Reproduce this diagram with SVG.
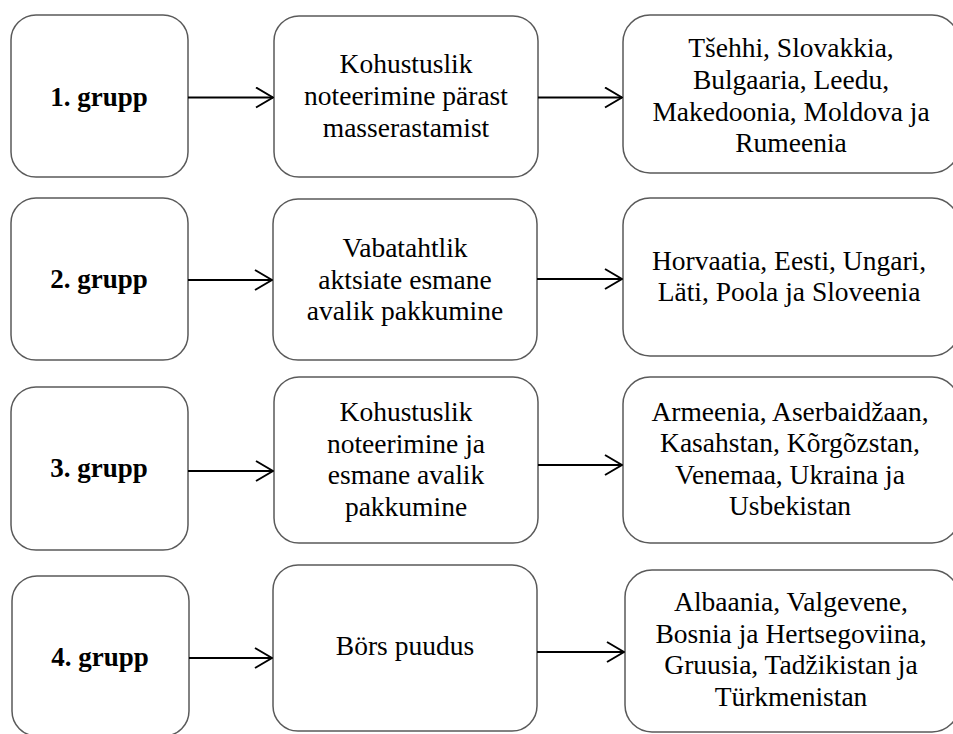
<svg xmlns="http://www.w3.org/2000/svg" width="953" height="734" viewBox="0 0 953 734">
  <style>
    .box { fill: #ffffff; stroke: #5a5a5a; stroke-width: 1.5; }
    .lbl { font-family: 'Liberation Serif', 'Times New Roman', serif; font-size: 27.5px; fill: #000; text-anchor: middle; }
    .grp { font-family: 'Liberation Serif', 'Times New Roman', serif; font-size: 27px; font-weight: bold; fill: #000; text-anchor: middle; }
    .conn { stroke: #000; stroke-width: 2; fill: none; marker-end: url(#open); }
  </style>
  <defs>
    <!-- open chevron arrowhead -->
    <marker id="open" viewBox="0 0 20 22" refX="19" refY="11" markerWidth="20" markerHeight="22" markerUnits="userSpaceOnUse" orient="auto">
      <path d="M2,1 L19,11 L2,21" fill="none" stroke="#000" stroke-width="2"/>
    </marker>
  </defs>
  <rect width="953" height="734" fill="#ffffff"/>

  <!-- group column -->
  <g id="grupp1">
    <rect class="box" x="11" y="15" width="177" height="162" rx="25"/>
    <text class="grp" x="99" y="106">1. grupp</text>
  </g>
  <g id="grupp2">
    <rect class="box" x="11" y="198" width="177" height="162" rx="25"/>
    <text class="grp" x="99" y="288">2. grupp</text>
  </g>
  <g id="grupp3">
    <rect class="box" x="11" y="387" width="177" height="163" rx="25"/>
    <text class="grp" x="99" y="477">3. grupp</text>
  </g>
  <g id="grupp4">
    <rect class="box" x="12" y="576" width="177" height="160" rx="25"/>
    <text class="grp" x="100" y="666">4. grupp</text>
  </g>

  <!-- listing mode column -->
  <g id="viis1">
    <rect class="box" x="274" y="16" width="264" height="161" rx="25"/>
    <text class="lbl" x="406" y="73">Kohustuslik</text>
    <text class="lbl" x="406" y="105">noteerimine pärast</text>
    <text class="lbl" x="406" y="137">masserastamist</text>
  </g>
  <g id="viis2">
    <rect class="box" x="273" y="199" width="264" height="161" rx="25"/>
    <text class="lbl" x="405" y="257">Vabatahtlik</text>
    <text class="lbl" x="405" y="288.5">aktsiate esmane</text>
    <text class="lbl" x="405" y="320">avalik pakkumine</text>
  </g>
  <g id="viis3">
    <rect class="box" x="274" y="377" width="264" height="166" rx="25"/>
    <text class="lbl" x="406" y="421">Kohustuslik</text>
    <text class="lbl" x="406" y="452.5">noteerimine ja</text>
    <text class="lbl" x="406" y="484">esmane avalik</text>
    <text class="lbl" x="406" y="515.5">pakkumine</text>
  </g>
  <g id="viis4">
    <rect class="box" x="273" y="565" width="264" height="166" rx="25"/>
    <text class="lbl" x="405" y="655">Börs puudus</text>
  </g>

  <!-- country column -->
  <g id="riigid1">
    <rect class="box" x="623" y="15" width="336" height="158" rx="27"/>
    <text class="lbl" x="791" y="57">Tšehhi, Slovakkia,</text>
    <text class="lbl" x="791" y="89">Bulgaaria, Leedu,</text>
    <text class="lbl" x="791" y="120.5">Makedoonia, Moldova ja</text>
    <text class="lbl" x="791" y="152">Rumeenia</text>
  </g>
  <g id="riigid2">
    <rect class="box" x="623" y="198" width="336" height="158" rx="27"/>
    <text class="lbl" x="789" y="270">Horvaatia, Eesti, Ungari,</text>
    <text class="lbl" x="789" y="301">Läti, Poola ja Sloveenia</text>
  </g>
  <g id="riigid3">
    <rect class="box" x="623" y="377" width="336" height="166" rx="27"/>
    <text class="lbl" x="790" y="420.5">Armeenia, Aserbaidžaan,</text>
    <text class="lbl" x="790" y="452">Kasahstan, Kõrgõzstan,</text>
    <text class="lbl" x="790" y="483.5">Venemaa, Ukraina ja</text>
    <text class="lbl" x="790" y="515">Usbekistan</text>
  </g>
  <g id="riigid4">
    <rect class="box" x="625" y="570" width="334" height="162" rx="27"/>
    <text class="lbl" x="791" y="611">Albaania, Valgevene,</text>
    <text class="lbl" x="791" y="642.5">Bosnia ja Hertsegoviina,</text>
    <text class="lbl" x="791" y="674">Gruusia, Tadžikistan ja</text>
    <text class="lbl" x="791" y="705.5">Türkmenistan</text>
  </g>

  <!-- connectors -->
  <g id="connectors">
    <line class="conn" x1="188" y1="97.5" x2="273" y2="97.5"/>
    <line class="conn" x1="538" y1="97.5" x2="622" y2="97.5"/>
    <line class="conn" x1="188" y1="280" x2="272" y2="280"/>
    <line class="conn" x1="537" y1="279" x2="622" y2="279"/>
    <line class="conn" x1="188" y1="471" x2="273" y2="471"/>
    <line class="conn" x1="538" y1="465" x2="622" y2="465"/>
    <line class="conn" x1="189" y1="658" x2="272" y2="658"/>
    <line class="conn" x1="537" y1="652" x2="624" y2="652"/>
  </g>
</svg>
